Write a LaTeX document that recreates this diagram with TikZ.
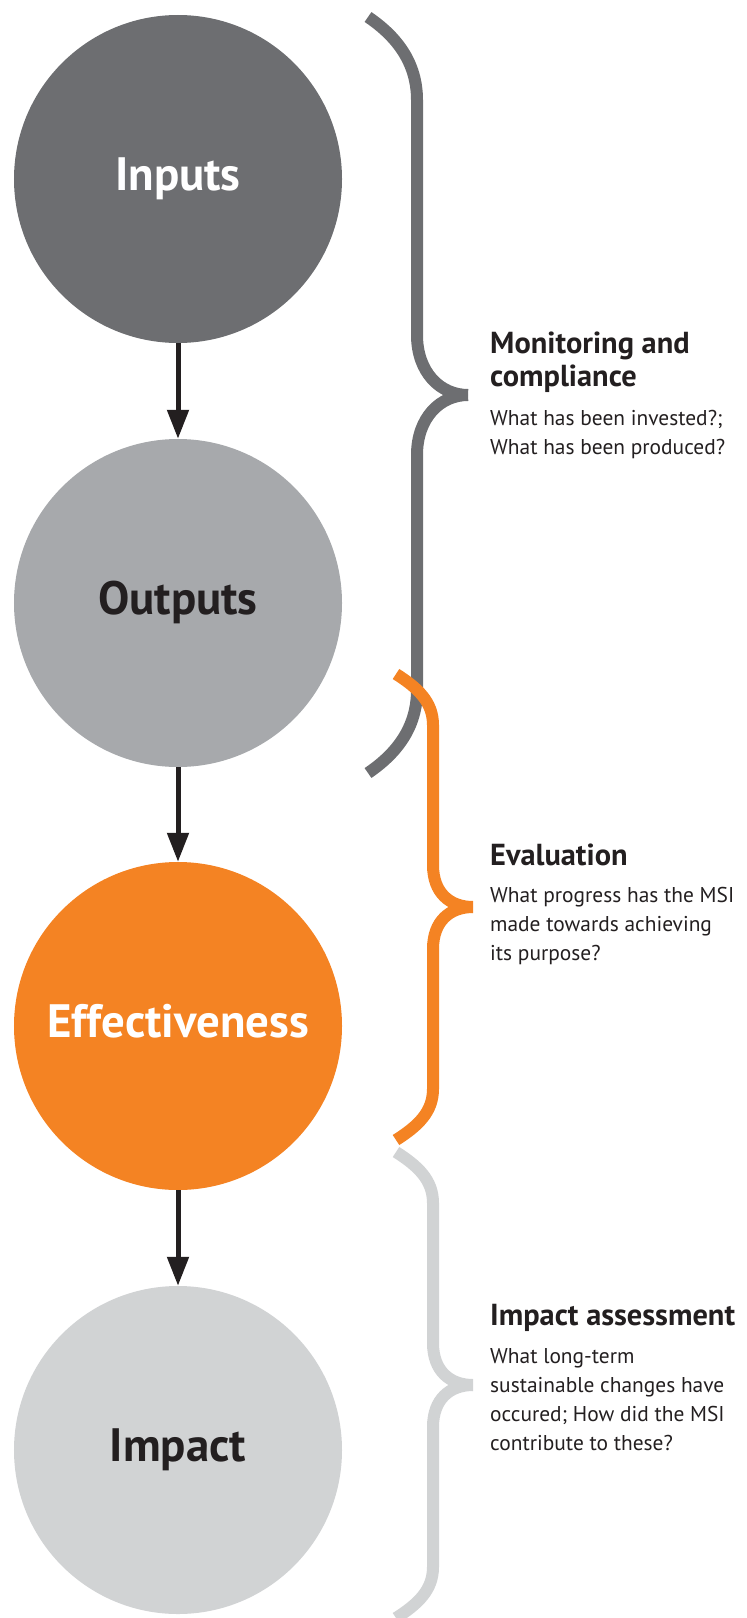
\documentclass[tikz,border=0pt]{standalone}
\usepackage{fontspec}
\setmainfont{PT Sans}
\usetikzlibrary{arrows.meta,positioning}
\definecolor{msidark}{RGB}{109,110,113}
\definecolor{msimid}{RGB}{167,169,172}
\definecolor{msiorange}{RGB}{244,131,35}
\definecolor{msilight}{RGB}{209,211,212}
\definecolor{msitext}{RGB}{35,31,32}

\begin{document}
\begin{tikzpicture}[x=1bp,y=-1bp,
  stage/.style={circle,minimum size=328bp,inner sep=0pt,font=\fontsize{47}{47}\selectfont\bfseries,text height=34bp,text depth=11bp},
  arr/.style={-{Triangle[length=29bp,width=21bp]},line width=5bp,draw=msitext},
  brc/.style={line width=12bp},
  head/.style={anchor=base west,inner sep=0pt,text=msitext,font=\fontsize{30.5}{34}\selectfont\bfseries},
  qtxt/.style={anchor=base west,inner sep=0pt,text=msitext,font=\fontsize{21.5}{29.3}\selectfont}]
\useasboundingbox (0,0) rectangle (747,1618);
% stages
\node[stage,fill=msidark,text=white] (in) at (178,179) {Inputs};
\node[stage,fill=msimid,text=msitext] (out) at (178,603) {Outputs};
\node[stage,fill=msiorange,text=white] (eff) at (178,1026) {Effectiveness};
\node[stage,fill=msilight,text=msitext] (imp) at (178,1450) {Impact};
\draw[arr] (in) -- (out);
\draw[arr] (out) -- (eff);
\draw[arr] (eff) -- (imp);
% braces
\draw[brc,draw=msidark] (368,17) .. controls (396,36) and (417,62) .. (417,100) -- (417,335)
  .. controls (417,372) and (440,395) .. (468,395);
\draw[brc,draw=msidark] (468,395) .. controls (440,395) and (417,418) .. (417,455) -- (417,690)
  .. controls (417,728) and (396,754) .. (368,773);
\draw[brc,draw=msiorange] (396,674) .. controls (418,688) and (433,702) .. (433,725) -- (433,865)
  .. controls (433,893) and (450,907) .. (473,907);
\draw[brc,draw=msiorange] (473,907) .. controls (450,907) and (433,921) .. (433,949) -- (433,1089)
  .. controls (433,1112) and (418,1126) .. (396,1140);
\draw[brc,draw=msilight] (396,1152) .. controls (418,1166) and (433,1180) .. (433,1203) -- (433,1343)
  .. controls (433,1371) and (450,1385) .. (473,1385);
\draw[brc,draw=msilight] (473,1385) .. controls (450,1385) and (433,1399) .. (433,1427) -- (433,1567)
  .. controls (433,1590) and (418,1604) .. (396,1618);
% texts
\node[head] (monh) at (490,353) {\begin{tabular}[t]{@{}l@{}}Monitoring and\\compliance\end{tabular}};
\node[qtxt] (monq) at (490,425) {\begin{tabular}[t]{@{}l@{}}What has been invested?;\\What has been produced?\end{tabular}};
\node[head] (evh) at (490,865) {Evaluation};
\node[qtxt] (evq) at (490,902) {\begin{tabular}[t]{@{}l@{}}What progress has the MSI\\made towards achieving\\its purpose?\end{tabular}};
\node[head] (imh) at (490,1325) {Impact assessment};
\node[qtxt] (imq) at (490,1363) {\begin{tabular}[t]{@{}l@{}}What long-term\\sustainable changes have\\occured; How did the MSI\\contribute to these?\end{tabular}};
\end{tikzpicture}
\end{document}
